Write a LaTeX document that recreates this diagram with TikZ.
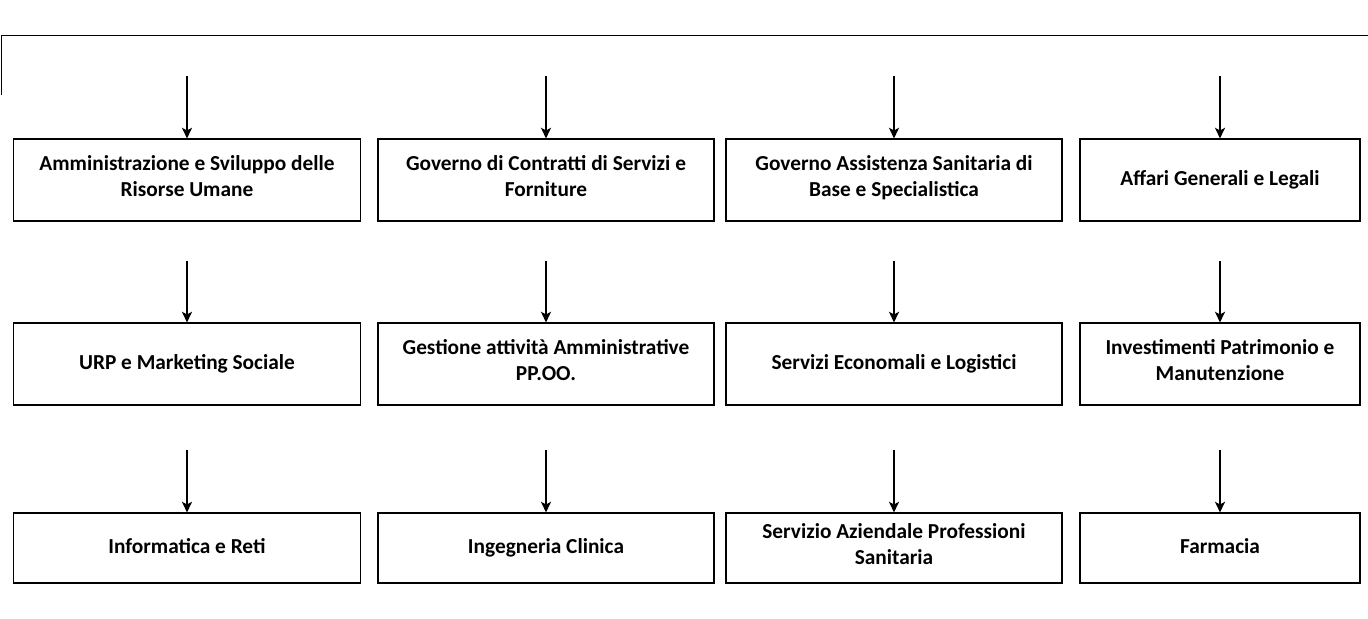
\documentclass[tikz,border=0pt]{standalone}
\usepackage{fontspec}
\setmainfont{Carlito}
\usetikzlibrary{arrows.meta}
\tikzset{every picture/.style={line width=0.75pt}}
\tikzset{
  office/.style={draw, line width=0.8pt, align=center, inner sep=2pt,
    font=\bfseries\fontsize{16}{20}\selectfont,
    execute at begin node=\strut, execute at end node=\strut},
  colA/.style={office, minimum width=260pt},
  colB/.style={office, minimum width=252pt},
  colC/.style={office, minimum width=252pt},
  colD/.style={office, minimum width=210pt},
  tall/.style={minimum height=61.5pt},
  low/.style={minimum height=52.5pt},
  feed/.style={line width=1.4pt, -{Stealth[length=8pt,width=7.5pt,inset=2pt]}}
}

\begin{document}
\begin{tikzpicture}[x=0.75pt,y=0.75pt,yscale=-1,xscale=1]
\useasboundingbox (0,0) rectangle (1368,618);

%Straight Lines: top bar
\draw    (1,95) -- (1,35) -- (1368,35) ;

% Text Node: first row
\node (amm) [colA, tall] at (187,180) {Amministrazione e Sviluppo delle\\Risorse Umane};
% Text Node
\node (con) [colB, tall] at (546,180) {Governo di Contratti di Servizi e\\Forniture};
% Text Node
\node (ass) [colC, tall] at (894,180) {Governo Assistenza Sanitaria di\\Base e Specialistica};
% Text Node
\node (aff) [colD, tall] at (1220,180) {Affari Generali e Legali};

% Text Node: second row
\node (urp) [colA, tall] at (187,364) {URP e Marketing Sociale};
% Text Node
\node (ges) [colB, tall] at (546,364) {Gestione attività Amministrative\\PP.OO.};
% Text Node
\node (eco) [colC, tall] at (894,364) {Servizi Economali e Logistici};
% Text Node
\node (inv) [colD, tall] at (1220,364) {Investimenti Patrimonio e\\Manutenzione};

% Text Node: third row
\node (inf) [colA, low] at (187,548) {Informatica e Reti};
% Text Node
\node (ing) [colB, low] at (546,548) {Ingegneria Clinica};
% Text Node
\node (pro) [colC, low] at (894,548) {Servizio Aziendale Professioni\\Sanitaria};
% Text Node
\node (far) [colD, low] at (1220,548) {Farmacia};

%Arrow start points
\coordinate (tamm) at (187,76) ;
\coordinate (tcon) at (546,76) ;
\coordinate (tass) at (894,76) ;
\coordinate (taff) at (1220,76) ;
\coordinate (turp) at (187,261) ;
\coordinate (tges) at (546,261) ;
\coordinate (teco) at (894,261) ;
\coordinate (tinv) at (1220,261) ;
\coordinate (tinf) at (187,450) ;
\coordinate (ting) at (546,450) ;
\coordinate (tpro) at (894,450) ;
\coordinate (tfar) at (1220,450) ;

%Straight Lines: arrows
\draw [feed] (tamm) -- (amm) ;
\draw [feed] (tcon) -- (con) ;
\draw [feed] (tass) -- (ass) ;
\draw [feed] (taff) -- (aff) ;
\draw [feed] (turp) -- (urp) ;
\draw [feed] (tges) -- (ges) ;
\draw [feed] (teco) -- (eco) ;
\draw [feed] (tinv) -- (inv) ;
\draw [feed] (tinf) -- (inf) ;
\draw [feed] (ting) -- (ing) ;
\draw [feed] (tpro) -- (pro) ;
\draw [feed] (tfar) -- (far) ;

\end{tikzpicture}
\end{document}
